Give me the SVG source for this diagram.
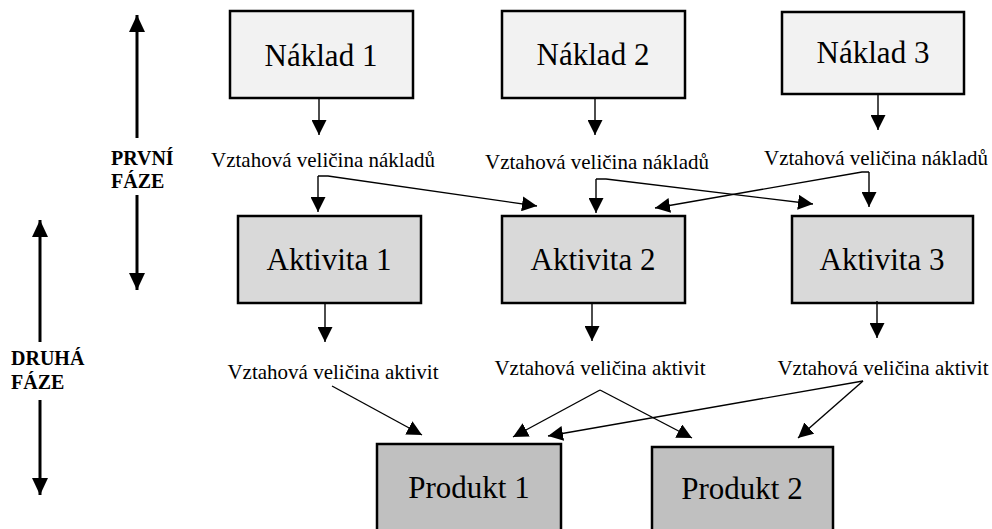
<svg xmlns="http://www.w3.org/2000/svg" width="992" height="529" viewBox="0 0 992 529">
<style>
.box{stroke:#000;stroke-width:2.5}
.n{fill:#f2f2f2}
.a{fill:#d9d9d9}
.p{fill:#c0c0c0}
text{font-family:'Liberation Serif','Times New Roman',Times,'DejaVu Serif',serif;fill:#000}
.bt{font-size:31px;text-anchor:middle}
.lb{font-size:21px;text-anchor:middle}
.ph{font-size:20px;font-weight:bold}
.c{fill:none;stroke:#000;stroke-width:1.4;marker-end:url(#ah)}
.pa{fill:none;stroke:#000;stroke-width:3;marker-end:url(#ph)}
</style>
<defs>
<marker id="ah" markerUnits="userSpaceOnUse" markerWidth="15" markerHeight="15" refX="15" refY="7.5" orient="auto" viewBox="0 0 15 15">
<path d="M0,0 L15,7.5 L0,15 z" fill="#000"/>
</marker>
<marker id="ph" markerUnits="userSpaceOnUse" markerWidth="17" markerHeight="16" refX="17" refY="8" orient="auto" viewBox="0 0 17 16">
<path d="M0,0 L17,8 L0,16 z" fill="#000"/>
</marker>
</defs>
<rect width="992" height="529" fill="#fff"/>

<g id="phase1">
<line class="pa" x1="137" y1="138" x2="137" y2="15"/>
<line class="pa" x1="137" y1="195" x2="137" y2="290"/>
<text class="ph" x="111" y="165">PRVNÍ</text>
<text class="ph" x="111" y="188">FÁZE</text>
</g>
<g id="phase2">
<line class="pa" x1="40" y1="342" x2="40" y2="220"/>
<line class="pa" x1="40" y1="400" x2="40" y2="495"/>
<text class="ph" x="11" y="365">DRUHÁ</text>
<text class="ph" x="11" y="389">FÁZE</text>
</g>

<g id="naklad1"><rect class="box n" x="230" y="11" width="183" height="87"/><text class="bt" x="321" y="66">Náklad 1</text></g>
<g id="naklad2"><rect class="box n" x="502" y="11" width="183" height="87"/><text class="bt" x="593" y="65">Náklad 2</text></g>
<g id="naklad3"><rect class="box n" x="782" y="12" width="182" height="82"/><text class="bt" x="873" y="63">Náklad 3</text></g>

<g id="aktivita1"><rect class="box a" x="238" y="216" width="183" height="87"/><text class="bt" x="329" y="270">Aktivita 1</text></g>
<g id="aktivita2"><rect class="box a" x="502" y="216" width="183" height="87"/><text class="bt" x="593" y="270">Aktivita 2</text></g>
<g id="aktivita3"><rect class="box a" x="792" y="216" width="181" height="87"/><text class="bt" x="882" y="270">Aktivita 3</text></g>

<g id="produkt1"><rect class="box p" x="377" y="444" width="184" height="100"/><text class="bt" x="469" y="498">Produkt 1</text></g>
<g id="produkt2"><rect class="box p" x="652" y="447" width="181" height="100"/><text class="bt" x="742" y="499">Produkt 2</text></g>

<g id="labels">
<text class="lb" x="323" y="167">Vztahová veličina nákladů</text>
<text class="lb" x="597" y="169">Vztahová veličina nákladů</text>
<text class="lb" x="876" y="165">Vztahová veličina nákladů</text>
<text class="lb" x="333" y="379">Vztahová veličina aktivit</text>
<text class="lb" x="600" y="375">Vztahová veličina aktivit</text>
<text class="lb" x="883" y="375">Vztahová veličina aktivit</text>
</g>

<g id="connectors">
<line class="c" x1="319" y1="98" x2="319" y2="135"/>
<line class="c" x1="595" y1="98" x2="595" y2="135"/>
<line class="c" x1="878" y1="94" x2="878" y2="130"/>

<line class="c" x1="318" y1="176" x2="318" y2="212"/>
<polyline class="c" points="318,176 328,176 537,206"/>
<line class="c" x1="596" y1="179" x2="596" y2="213"/>
<polyline class="c" points="596,179 606,179 813,204"/>
<line class="c" x1="869" y1="172" x2="869" y2="207"/>
<polyline class="c" points="869,172 862,172 655,208"/>

<line class="c" x1="325" y1="303" x2="325" y2="342"/>
<line class="c" x1="592" y1="303" x2="592" y2="341"/>
<line class="c" x1="877" y1="301" x2="877" y2="338"/>

<line class="c" x1="332" y1="386" x2="422" y2="435"/>
<line class="c" x1="600" y1="390" x2="513" y2="437"/>
<line class="c" x1="600" y1="390" x2="692" y2="438"/>
<line class="c" x1="863" y1="381" x2="548" y2="436"/>
<line class="c" x1="863" y1="381" x2="798" y2="438"/>
</g>
</svg>
